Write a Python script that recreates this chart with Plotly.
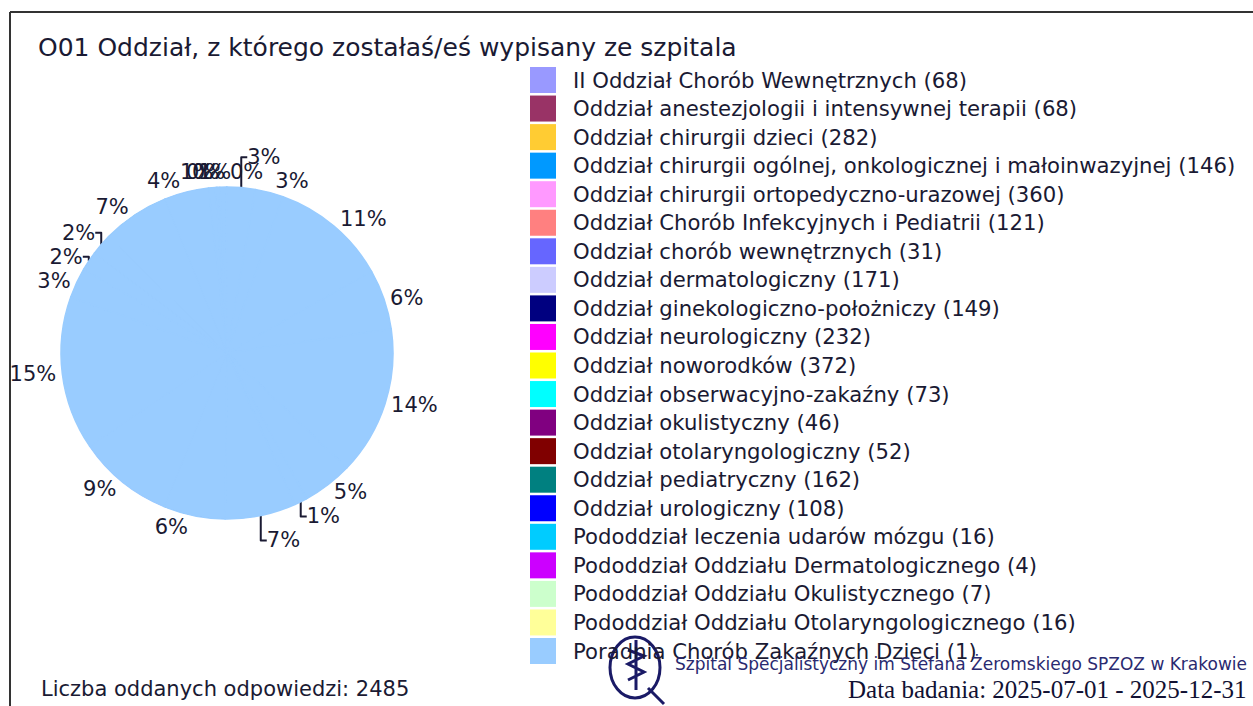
import plotly.graph_objects as go

# ---- data ----
categories = [
    "II Oddział Chorób Wewnętrznych",
    "Oddział anestezjologii i intensywnej terapii",
    "Oddział chirurgii dzieci",
    "Oddział chirurgii ogólnej, onkologicznej i małoinwazyjnej",
    "Oddział chirurgii ortopedyczno-urazowej",
    "Oddział Chorób Infekcyjnych i Pediatrii",
    "Oddział chorób wewnętrznych",
    "Oddział dermatologiczny",
    "Oddział ginekologiczno-położniczy",
    "Oddział neurologiczny",
    "Oddział noworodków",
    "Oddział obserwacyjno-zakaźny",
    "Oddział okulistyczny",
    "Oddział otolaryngologiczny",
    "Oddział pediatryczny",
    "Oddział urologiczny",
    "Pododdział leczenia udarów mózgu",
    "Pododdział Oddziału Dermatologicznego",
    "Pododdział Oddziału Okulistycznego",
    "Pododdział Oddziału Otolaryngologicznego",
    "Poradnia Chorób Zakaźnych Dzieci",
]
counts = [68, 68, 282, 146, 360, 121, 31, 171, 149, 232, 372, 73, 46, 52, 162, 108, 16, 4, 7, 16, 1]
colors = [
    "#9999ff", "#993366", "#ffcc33", "#0099ff", "#ff99ff", "#ff8080", "#6666ff",
    "#ccccff", "#000080", "#ff00ff", "#ffff00", "#00ffff", "#800080", "#800000",
    "#008080", "#0000ff", "#00ccff", "#cc00ff", "#ccffcc", "#ffff99", "#99ccff",
]
title_text = "O01 Oddział, z którego zostałaś/eś wypisany ze szpitala"
total_text = "Liczba oddanych odpowiedzi: 2485"
hospital_text = "Szpital Specjalistyczny im Stefana Żeromskiego SPZOZ w Krakowie"
date_text = "Data badania: 2025-07-01 - 2025-12-31"

W, H = 1253, 706
TXT = "#1a1a33"
total = sum(counts)


def X(px):
    return px / W


def Y(py):
    return 1 - py / H


# pie placement (pixels)
cx, cy, r = 227, 353, 166
domain = dict(x=[X(cx - r), X(cx + r)], y=[Y(cy + r), Y(cy - r)])

tiny = [v / total < 0.01 for v in counts]
textpos = ["none" if t else "outside" for t in tiny]

fig = go.Figure()

# coloured pie with percentage labels
fig.add_trace(go.Pie(
    labels=categories, values=counts, sort=False, direction="clockwise", rotation=0,
    marker=dict(colors=colors, line=dict(width=0)),
    texttemplate="%{percent:.0%}", textposition=textpos,
    textfont=dict(family="DejaVu Sans", size=21, color=TXT),
    domain=domain, showlegend=False, hoverinfo="label+value+percent",
))
# the last slice's colour painted over the whole disc, as in the reference
fig.add_trace(go.Pie(
    labels=categories, values=counts, sort=False, direction="clockwise", rotation=0,
    marker=dict(colors=[colors[-1]] * len(counts), line=dict(width=1.5, color=colors[-1])),
    textinfo="none", domain=domain, showlegend=False, hoverinfo="skip",
))

shapes = []
annotations = []

# overlapping labels of the tiny slices near the top of the pie
tiny_idx = [i for i, t in enumerate(tiny) if t]
for k, i in enumerate(tiny_idx):
    is_last = (i == len(counts) - 1)
    xpos = 228 if is_last else 178 + 6 * k
    annotations.append(dict(text=f"{round(counts[i] / total * 100)}%", x=X(xpos), y=Y(172),
                            xref="paper", yref="paper", xanchor="left", yanchor="middle",
                            showarrow=False, font=dict(family="DejaVu Sans", size=21, color=TXT)))

# frame lines (top and left)
shapes.append(dict(type="line", xref="paper", yref="paper", x0=X(10), x1=X(W), y0=Y(12), y1=Y(12),
                   line=dict(color="#333333", width=2)))
shapes.append(dict(type="line", xref="paper", yref="paper", x0=X(10), x1=X(10), y0=Y(12), y1=Y(H),
                   line=dict(color="#333333", width=2)))

# title
annotations.append(dict(text=title_text, x=X(36), y=Y(47), xref="paper", yref="paper",
                        xanchor="left", yanchor="middle", showarrow=False,
                        font=dict(family="DejaVu Sans", size=25, color=TXT)))

# manual legend
y0, step = 80, 28.55
for i, (cat, n, col) in enumerate(zip(categories, counts, colors)):
    yc = y0 + i * step
    shapes.append(dict(type="rect", xref="paper", yref="paper",
                       x0=X(530), x1=X(556), y0=Y(yc + 13), y1=Y(yc - 13),
                       fillcolor=col, line=dict(width=0)))
    annotations.append(dict(text=f"{cat} ({n})", x=X(571), y=Y(yc), xref="paper", yref="paper",
                            xanchor="left", yanchor="middle", showarrow=False,
                            font=dict(family="DejaVu Sans", size=21.2, color=TXT)))

# footer
annotations.append(dict(text=total_text, x=X(39), y=Y(689), xref="paper", yref="paper",
                        xanchor="left", yanchor="middle", showarrow=False,
                        font=dict(family="DejaVu Sans", size=21, color=TXT)))
annotations.append(dict(text=hospital_text, x=X(1249), y=Y(664), xref="paper", yref="paper",
                        xanchor="right", yanchor="middle", showarrow=False,
                        font=dict(family="DejaVu Sans", size=17, color="#2a2a70")))
annotations.append(dict(text=date_text, x=X(1249), y=Y(689), xref="paper", yref="paper",
                        xanchor="right", yanchor="middle", showarrow=False,
                        font=dict(family="Liberation Serif", size=25, color="#111133")))

# logo (stylised)
shapes.append(dict(type="circle", xref="paper", yref="paper", layer="above",
                   x0=X(610), x1=X(660), y0=Y(698), y1=Y(637),
                   line=dict(color="#1a1a66", width=3)))
shapes.append(dict(type="path", xref="paper", yref="paper", layer="above",
                   path=(f"M {X(636)} {Y(640)} L {X(636)} {Y(690)} "
                         f"M {X(628)} {Y(650)} L {X(644)} {Y(656)} L {X(628)} {Y(664)} "
                         f"L {X(644)} {Y(672)} L {X(628)} {Y(680)} "
                         f"M {X(648)} {Y(688)} L {X(664)} {Y(704)}"),
                   line=dict(color="#1a1a66", width=3)))

fig.update_layout(
    width=W, height=H, margin=dict(l=0, r=0, t=0, b=0),
    paper_bgcolor="white", plot_bgcolor="white",
    shapes=shapes, annotations=annotations,
)

fig.write_html("out.html", config={"displayModeBar": False},
               post_script="document.body.style.margin='0';document.body.style.overflow='hidden';")
